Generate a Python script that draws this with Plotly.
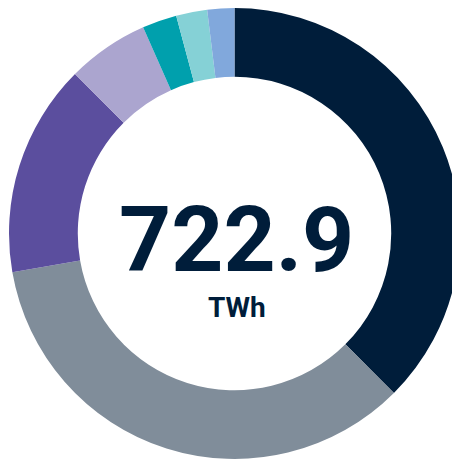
import plotly.graph_objects as go

labels = ["Source A", "Source B", "Source C", "Source D", "Source E", "Source F", "Source G"]
values = [271.1, 251.2, 110.2, 42.4, 17.9, 16.1, 14.0]
colors = ["#001D3A", "#808D9A", "#5B4E9E", "#ABA5CF", "#00A0AD", "#85D1D6", "#81A8DC"]
total_label = "722.9"
unit_label = "TWh"

W = H = 460.0
OFF = 8  # page body margin

def px_x(page_x):
    return min(1.0, max(0.0, (page_x - OFF) / W))

def px_y(page_y):
    return min(1.0, max(0.0, 1 - (page_y - OFF) / H))

fig = go.Figure(go.Pie(
    labels=labels,
    values=values,
    hole=0.695,
    sort=False,
    direction="clockwise",
    rotation=0,
    marker=dict(colors=colors, line=dict(width=0)),
    textinfo="none",
    hoverinfo="label+value",
    showlegend=False,
    domain=dict(x=[px_x(8.5), px_x(460.5)], y=[px_y(459), px_y(8)]),
))

fig.add_annotation(text=f"<b>{total_label}</b>", x=px_x(236), y=px_y(240), xref="paper", yref="paper",
                   showarrow=False, font=dict(family="Roboto", size=91, color="#001D3A"),
                   xanchor="center", yanchor="middle")
fig.add_annotation(text=f"<b>{unit_label}</b>", x=px_x(237), y=px_y(307), xref="paper", yref="paper",
                   showarrow=False, font=dict(family="Roboto", size=28, color="#001D3A"),
                   xanchor="center", yanchor="middle")

fig.update_layout(
    width=460, height=460,
    margin=dict(l=0, r=0, t=0, b=0),
    paper_bgcolor="white", plot_bgcolor="white",
)
fig.write_html("out.html")
